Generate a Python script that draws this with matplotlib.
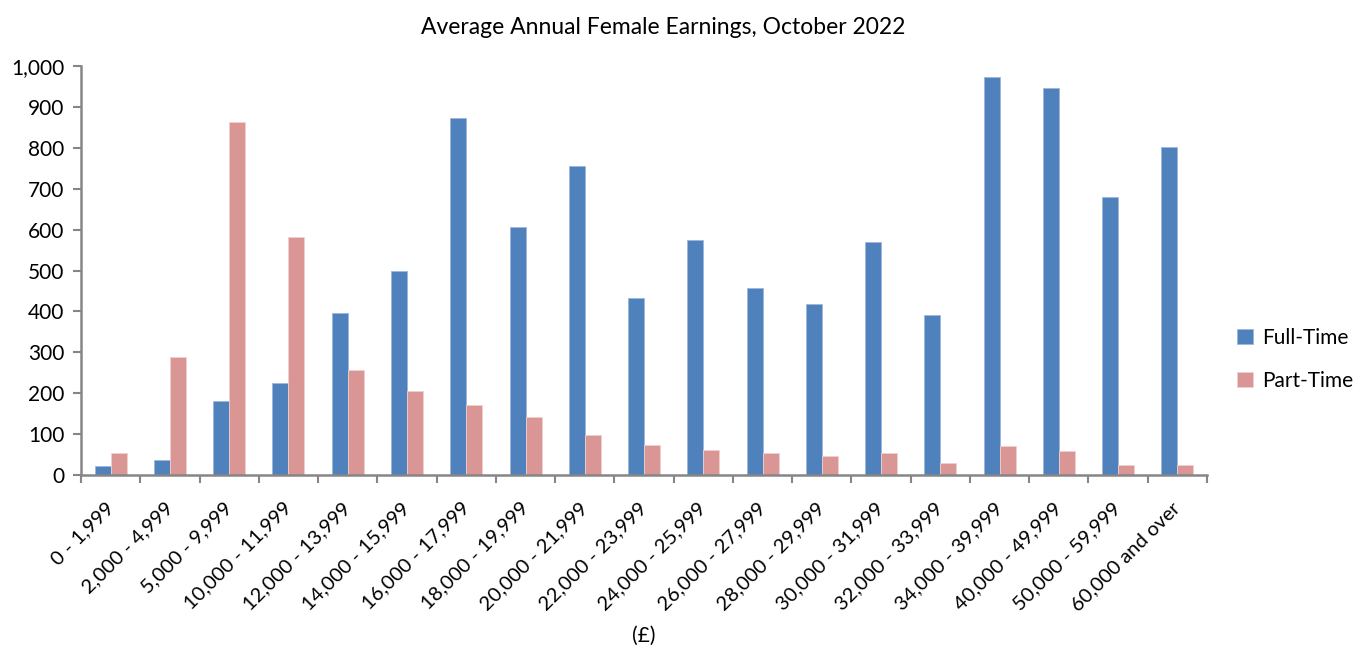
import matplotlib.pyplot as plt
import numpy as np
from matplotlib.ticker import FuncFormatter

categories = ["0 - 1,999", "2,000 - 4,999", "5,000 - 9,999", "10,000 - 11,999",
              "12,000 - 13,999", "14,000 - 15,999", "16,000 - 17,999", "18,000 - 19,999",
              "20,000 - 21,999", "22,000 - 23,999", "24,000 - 25,999", "26,000 - 27,999",
              "28,000 - 29,999", "30,000 - 31,999", "32,000 - 33,999", "34,000 - 39,999",
              "40,000 - 49,999", "50,000 - 59,999", "60,000 and over"]
full_time = [21, 36, 180, 225, 396, 499, 873, 607, 755, 433, 575, 456, 417, 569, 391, 974, 948, 681, 802]
part_time = [52, 289, 864, 583, 256, 205, 171, 141, 97, 73, 60, 52, 46, 53, 29, 71, 57, 23, 24]

plt.rcParams['font.family'] = ['Lato', 'DejaVu Sans']
axis_grey = '#868686'

fig = plt.figure(figsize=(13.6, 6.48), dpi=100)
ax = fig.add_axes([0.0596, 0.2674, 0.8279, 0.6303])

x = np.arange(len(categories))
w = 0.27
ax.bar(x - w / 2, full_time, w, color='#4F81BD', edgecolor='#9DB6DA', linewidth=0.6, label='Full-Time')
ax.bar(x + w / 2, part_time, w, color='#D99694', edgecolor='#F0D0CF', linewidth=0.6, label='Part-Time')

ax.set_xlim(-0.5, len(categories) - 0.5)
ax.set_ylim(0, 1000)
ax.set_yticks(np.arange(0, 1001, 100))
ax.yaxis.set_major_formatter(FuncFormatter(lambda v, p: f"{int(v):,}"))

# ticks at the category boundaries, labels at the centres
ax.set_xticks(np.arange(-0.5, len(categories), 1.0))
ax.set_xticklabels([])
ax.set_xticks(x, minor=True)
ax.set_xticklabels(categories, minor=True, rotation=45, ha='right', va='center',
                   rotation_mode='anchor', fontsize=14.5)
ax.tick_params(axis='x', which='minor', length=0, pad=22)
ax.tick_params(axis='x', which='major', length=6, width=1.5, color=axis_grey)
ax.tick_params(axis='y', length=6, width=1.5, color=axis_grey, labelsize=15, pad=6)

for s in ['top', 'right']:
    ax.spines[s].set_visible(False)
for s in ['left', 'bottom']:
    ax.spines[s].set_color(axis_grey)
    ax.spines[s].set_linewidth(1.8)

fig.text(0.488, 0.958, 'Average Annual Female Earnings, October 2022', ha='center', va='center', fontsize=16.5)
fig.text(0.473, 0.003, '(£)', ha='center', va='bottom', fontsize=15)

ax.legend(loc='center left', bbox_to_anchor=(1.01, 0.283), frameon=False, fontsize=15,
          handlelength=0.75, handleheight=0.75, labelspacing=1.1, handletextpad=0.45)

plt.savefig('out.png', dpi=100)
